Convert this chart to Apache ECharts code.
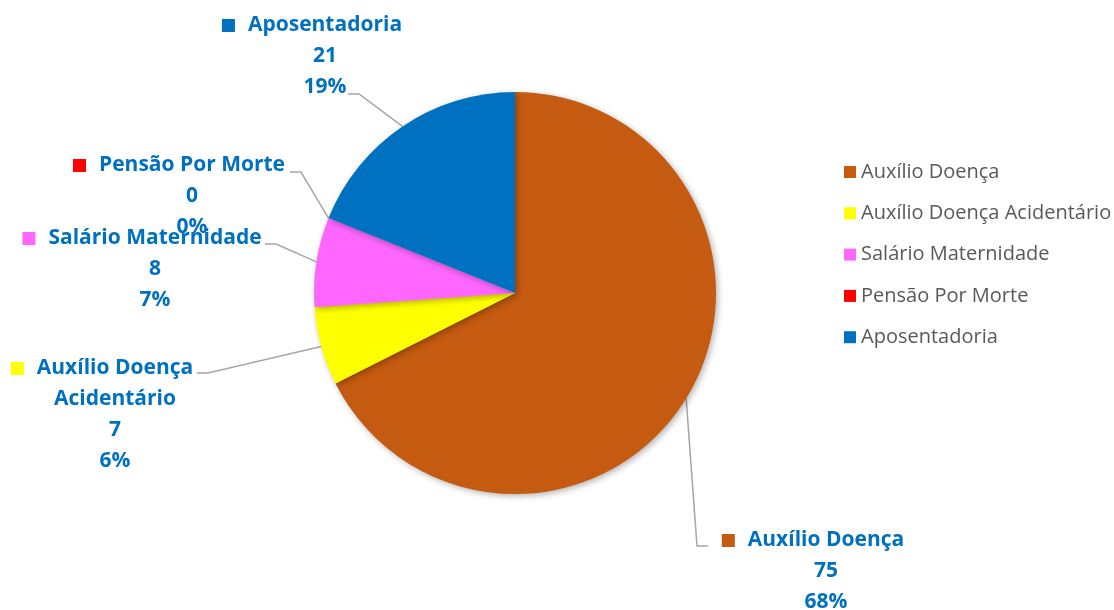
<!DOCTYPE html>
<html>
<head>
<meta charset="utf-8">
<title>Benefícios</title>
<script src="https://cdn.jsdelivr.net/npm/echarts@6/dist/echarts.min.js"></script>
<style>
  html, body { margin: 0; padding: 0; background: #fff; }
  #chart { width: 1114px; height: 610px; }
</style>
</head>
<body>
<div id="chart"></div>
<script>
// dados do gráfico
var categorias = ['Auxílio Doença', 'Auxílio Doença Acidentário', 'Salário Maternidade', 'Pensão Por Morte', 'Aposentadoria'];
var valores = [75, 7, 8, 0, 21];
var cores = ['#C55A11', '#FFFF00', '#FF66FF', '#FF0000', '#0070C0'];
// quebra de linha do rótulo (Excel quebra o nome longo)
var nomesRotulo = ['Auxílio Doença', 'Auxílio Doença\nAcidentário', 'Salário Maternidade', 'Pensão Por Morte', 'Aposentadoria'];

// posição de cada bloco de rótulo (centro x, topo y)
var posRotulo = [
  [826, 525],
  [115, 353],
  [155, 223],
  [192, 150],
  [325, 10]
];
// onde a linha guia encosta no rótulo (dx do centro, dy do topo, lado)
var ancoraLinha = [
  [-118, 21, -1],
  [82, 20, 1],
  [110, 21, 1],
  [98, 22, 1],
  [23, 84, 1]
];

var myChart = echarts.init(document.getElementById('chart'));

var dados = valores.map(function (v, i) {
  var partes = nomesRotulo[i].split('\n');
  var primeira = '{sq' + i + '|}{nm|' + partes[0] + '}{sp|}';
  var resto = partes.slice(1).map(function (p) { return '{tx|' + p + '}'; });
  return {
    name: categorias[i],
    value: v,
    itemStyle: { color: cores[i] },
    label: {
      formatter: [primeira].concat(resto).concat(['{tx|{c}}', '{tx|{d}%}']).join('\n')
    }
  };
});

var fonte = { color: '#0070C0', fontWeight: 'bold', fontSize: 21, fontFamily: 'Open Sans', lineHeight: 31 };
var rich = {
  nm: Object.assign({ padding: [0, 0, 0, 13] }, fonte),
  tx: fonte,
  sp: { width: 26, height: 13 }
};
cores.forEach(function (c, i) {
  rich['sq' + i] = { width: 13, height: 13, backgroundColor: c };
});

var option = {
  animation: false,
  legend: {
    orient: 'vertical',
    left: 844,
    top: 162,
    padding: 0,
    itemWidth: 12,
    itemHeight: 12,
    itemGap: 21.3,
    icon: 'rect',
    data: categorias,
    textStyle: {
      color: '#595959',
      fontSize: 20,
      fontFamily: 'Open Sans',
      lineHeight: 20
    }
  },
  series: [
    {
      type: 'pie',
      center: [515, 293],
      radius: 201,
      startAngle: 90,
      clockwise: true,
      percentPrecision: 0,
      avoidLabelOverlap: false,
      data: dados,
      itemStyle: {
        shadowBlur: 6,
        shadowColor: 'rgba(0,0,0,0.3)',
        shadowOffsetX: 2,
        shadowOffsetY: 2
      },
      label: {
        show: true,
        position: 'outside',
        align: 'center',
        rich: rich
      },
      labelLine: {
        show: true,
        length: 20,
        length2: 12,
        lineStyle: { color: '#A6A6A6', width: 1.5 }
      },
      labelLayout: function (params) {
        var i = params.dataIndex;
        var p = posRotulo[i];
        var a = ancoraLinha[i];
        var borda = params.labelLinePoints ? params.labelLinePoints[0] : null;
        var fim = [p[0] + a[0], p[1] + a[1]];
        var cotovelo = [fim[0] + a[2] * 11, fim[1]];
        var res = {
          x: p[0],
          y: p[1],
          align: 'center',
          verticalAlign: 'top'
        };
        if (borda) {
          res.labelLinePoints = [borda, cotovelo, fim];
        }
        return res;
      }
    }
  ]
};

myChart.setOption(option);
</script>
</body>
</html>
